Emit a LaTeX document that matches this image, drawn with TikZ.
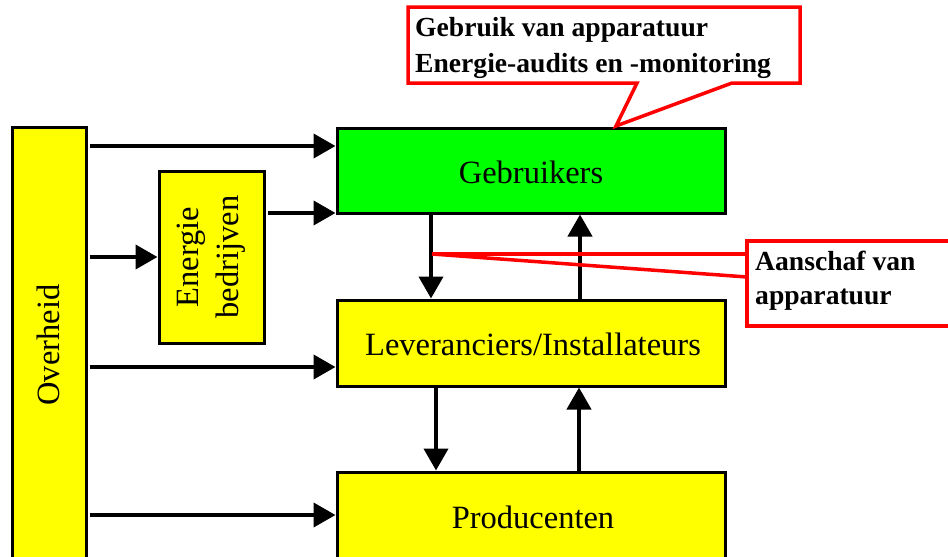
\documentclass[tikz,border=0pt]{standalone}
\usepackage{fontspec}
\setmainfont{Liberation Serif}
\usetikzlibrary{arrows.meta}
\definecolor{boxyellow}{RGB}{255,255,0}
\definecolor{boxgreen}{RGB}{0,255,0}
\definecolor{callred}{RGB}{255,0,0}
\tikzset{
  box/.style={draw=black, line width=3pt, fill=boxyellow, inner sep=0pt},
  gbox/.style={box, fill=boxgreen},
  boxtext/.style={font=\fontsize{32.5}{40}\selectfont, inner sep=0pt, align=center},
  arr/.style={line width=4pt, -{Triangle[length=22pt,width=24pt]}},
  callout/.style={draw=callred, line width=3.5pt, fill=white, line join=miter},
  tailline/.style={draw=callred, line width=3.5pt},
  calltext/.style={font=\fontsize{27.6}{36}\bfseries\selectfont, inner sep=0pt, anchor=base west}
}
\begin{document}
\begin{tikzpicture}[x=1pt,y=-1pt]
\clip (0,0) rectangle (948,557);
\fill[white] (0,0) rectangle (948,557);
% boxes
\node[box, minimum width=74pt, minimum height=436pt] (ov) at (49,345) {};
\node[boxtext, rotate=90] (ovt) at (48,345) {Overheid};
\node[box, minimum width=105pt, minimum height=172pt] (eb) at (211.5,257) {};
\node[boxtext, rotate=90] (ebt) at (211.5,257) {Energie\\bedrijven};
\node[gbox, minimum width=388pt, minimum height=85pt] (geb) at (531,170.5) {};
\node[boxtext] (gebt) at (531,172) {Gebruikers};
\node[box, minimum width=388pt, minimum height=86pt] (lev) at (531,343) {};
\node[boxtext] (levt) at (533,344) {Leveranciers/Installateurs};
\node[box, minimum width=388pt, minimum height=90pt] (prod) at (531,517) {};
\node[boxtext] (prodt) at (533,517) {Producenten};
% horizontal arrows
\draw[arr] ([xshift=2pt]ov.east |- 0,146) -- (geb.west |- 0,146);
\draw[arr] ([xshift=2pt]ov.east |- eb.west) -- (eb.west);
\draw[arr] ([xshift=2pt]eb.east |- 0,213) -- (geb.west |- 0,213);
\draw[arr] ([xshift=2pt]ov.east |- 0,367) -- (lev.west |- 0,367);
\draw[arr] ([xshift=2pt]ov.east |- 0,515) -- (prod.west |- 0,515);
% vertical arrows
\draw[arr] (geb.south -| 431,0) -- (lev.north -| 431,0);
\draw[arr] (lev.north -| 580,0) -- (geb.south -| 580,0);
\draw[arr] (lev.south -| 436,0) -- (prod.north -| 436,0);
\draw[arr] (prod.north -| 579,0) -- (lev.south -| 579,0);
% callout 1
\coordinate (c1tip) at (616,126);
\draw[callout] (408,7) -- (800,7) -- (800,83) -- (732,83) -- (c1tip) -- (637,83) -- (408,83) -- cycle;
\node[calltext] (c1a) at (415,36) {Gebruik van apparatuur};
\node[calltext] (c1b) at (415,72) {Energie-audits en -monitoring};
% callout 2
\coordinate (c2tip) at (432,254);
\draw[callout] (960,241) -- (747,241) -- (747,254) -- (747,277) -- (747,326) -- (960,326);
\draw[tailline] (c2tip) -- (747,254);
\draw[tailline] (c2tip) -- (747,277);
\node[calltext] (c2a) at (755,270) {Aanschaf van};
\node[calltext] (c2b) at (755,304) {apparatuur};
\end{tikzpicture}
\end{document}
